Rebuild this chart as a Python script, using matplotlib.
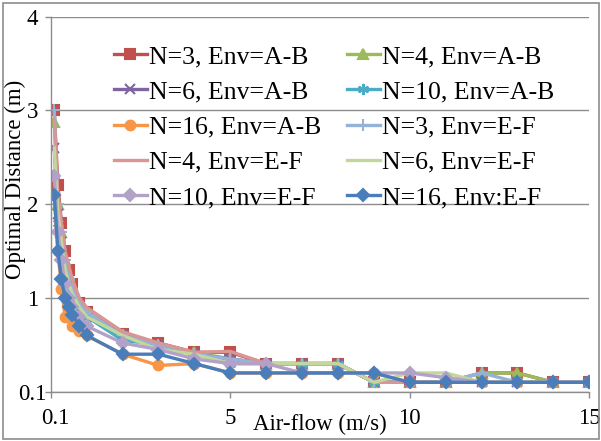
import matplotlib
matplotlib.use("Agg")
import matplotlib.pyplot as plt
import matplotlib.transforms as mtransforms
from matplotlib.patches import Rectangle

plt.rcParams['font.family'] = ['Liberation Serif', 'DejaVu Serif']

# x positions (m/s); the first tick (x=0) is labelled "0.1" as in the original
airflow = [0.1, 0.2, 0.3, 0.4, 0.5, 0.6, 0.8, 1, 2, 3, 4, 5, 6, 7, 8, 9, 10, 11, 12, 13, 14, 15]

n3_ab  = [3.0, 2.2, 1.8, 1.5, 1.3, 1.15, 0.95, 0.85, 0.62, 0.52, 0.42, 0.42, 0.3, 0.3, 0.3, 0.1, 0.1, 0.1, 0.2, 0.2, 0.1, 0.1]
n4_ab  = [2.88, 2.0, 1.7, 1.4, 1.25, 1.1, 0.95, 0.85, 0.6, 0.5, 0.42, 0.35, 0.3, 0.3, 0.3, 0.1, 0.1, 0.1, 0.2, 0.2, 0.1, 0.1]
n6_ab  = [2.6, 1.9, 1.6, 1.3, 1.15, 1.05, 0.9, 0.8, 0.6, 0.5, 0.4, 0.35, 0.3, 0.3, 0.3, 0.1, 0.1, 0.1, 0.1, 0.1, 0.1, 0.1]
n10_ab = [2.3, 1.8, 1.5, 1.25, 1.1, 1.0, 0.88, 0.8, 0.55, 0.5, 0.4, 0.3, 0.3, 0.3, 0.3, 0.1, 0.1, 0.1, 0.1, 0.1, 0.1, 0.1]
n16_ab = [2.1, 1.5, 1.1, 0.8, 0.8, 0.7, 0.65, 0.6, 0.4, 0.28, 0.3, 0.2, 0.2, 0.2, 0.2, 0.2, 0.1, 0.1, 0.1, 0.1, 0.1, 0.1]
n3_ef  = [3.0, 2.0, 1.7, 1.4, 1.2, 1.1, 0.95, 0.85, 0.6, 0.5, 0.4, 0.35, 0.3, 0.3, 0.3, 0.1, 0.1, 0.1, 0.2, 0.1, 0.1, 0.1]
n4_ef  = [2.9, 2.1, 1.8, 1.5, 1.35, 1.2, 1.0, 0.9, 0.64, 0.52, 0.42, 0.43, 0.3, 0.3, 0.3, 0.1, 0.1, 0.1, 0.1, 0.1, 0.1, 0.1]
n6_ef  = [2.6, 1.9, 1.6, 1.3, 1.15, 1.05, 0.9, 0.8, 0.6, 0.45, 0.4, 0.3, 0.3, 0.3, 0.3, 0.1, 0.2, 0.2, 0.1, 0.1, 0.1, 0.1]
n10_ef = [2.3, 1.7, 1.4, 1.15, 1.0, 0.9, 0.8, 0.7, 0.52, 0.45, 0.35, 0.3, 0.3, 0.2, 0.2, 0.2, 0.2, 0.15, 0.1, 0.1, 0.1, 0.1]
n16_ef = [2.1, 1.5, 1.2, 1.0, 0.9, 0.82, 0.7, 0.6, 0.4, 0.4, 0.3, 0.2, 0.2, 0.2, 0.2, 0.2, 0.1, 0.1, 0.1, 0.1, 0.1, 0.1]

labels = ["N=3, Env=A-B", "N=4, Env=A-B", "N=6, Env=A-B", "N=10, Env=A-B",
          "N=16, Env=A-B", "N=3, Env=E-F", "N=4, Env=E-F", "N=6, Env=E-F",
          "N=10, Env=E-F", "N=16, Env:E-F"]
series = [n3_ab, n4_ab, n6_ab, n10_ab, n16_ab, n3_ef, n4_ef, n6_ef, n10_ef, n16_ef]

colors = ["#C0504D", "#9BBB59", "#8064A2", "#4BACC6", "#F79646",
          "#95B3D7", "#D99694", "#C3D69B", "#B3A2C7", "#4A7EBB"]
markers = ["s", "^", "x", (6, 2, 0), "o", "+", None, None, "D", "D"]
msizes = [7, 7, 7, 8, 7, 8, 0, 0, 6, 6]

yticks = [0, 1, 2, 3, 4]
ytick_labels = ["0.1", "1", "2", "3", "4"]
xticks = [0, 5, 10, 15]
xtick_labels = ["0.1", "5", "10", "15"]

fig = plt.figure(figsize=(6.01, 4.41), dpi=100)
ax = fig.add_axes([50.7/601, 1-391.7/441, (589.3-50.7)/601, (391.7-16.7)/441])

handles = []
for ys, lab, c, m, ms in zip(series, labels, colors, markers, msizes):
    kw = dict(color=c, lw=2.4, label=lab)
    if m is not None:
        kw.update(marker=m, markersize=ms, markerfacecolor=c, markeredgecolor=c, markeredgewidth=1.5)
    h, = ax.plot(airflow, ys, **kw)
    handles.append(h)

ax.set_xlim(0, 15)
ax.set_ylim(0, 4)
ax.set_xticks(xticks)
ax.set_xticklabels(xtick_labels)
ax.set_yticks(yticks)
ax.set_yticklabels(ytick_labels, ha="center")
ax.yaxis.grid(True, color="#8C8C8C", lw=1.0)
ax.set_axisbelow(True)
for s in ["top", "right"]:
    ax.spines[s].set_visible(False)
for s in ["left", "bottom"]:
    ax.spines[s].set_color("#8C8C8C")
    ax.spines[s].set_linewidth(1.0)
ax.tick_params(axis="both", colors="#8C8C8C", labelcolor="black", labelsize=16.5, length=4, width=1.0)
ax.tick_params(axis="x", pad=8)
ax.tick_params(axis="y", pad=9)

# first x label sits slightly right of its tick in the original
first = ax.get_xticklabels()[0]
first.set_transform(first.get_transform() + mtransforms.ScaledTranslation(5/100, 0, fig.dpi_scale_trans))

ax.set_xlabel("Air-flow (m/s)", fontsize=16.5, labelpad=-11)
fig.text(15/601, 1-179/441, "Optimal Distance (m)", rotation=90, fontsize=16.5,
         ha="center", va="center")

# legend filled row by row (two columns)
order = [0, 2, 4, 6, 8, 1, 3, 5, 7, 9]
leg = ax.legend([handles[i] for i in order], [labels[i] for i in order],
                ncol=2, loc="upper left", bbox_to_anchor=(114/601, 1-45/441),
                bbox_transform=fig.transFigure, frameon=False, fontsize=18.5,
                handlelength=1.28, handletextpad=0.08, columnspacing=1.0,
                labelspacing=0.48, borderpad=0, borderaxespad=0)

fig.patches.append(Rectangle((2.5/601, 2.5/441), 1-5/601, 1-5/441, transform=fig.transFigure,
                             fill=False, edgecolor="#8C8C8C", lw=1.2))

fig.savefig("out.png", dpi=100)
